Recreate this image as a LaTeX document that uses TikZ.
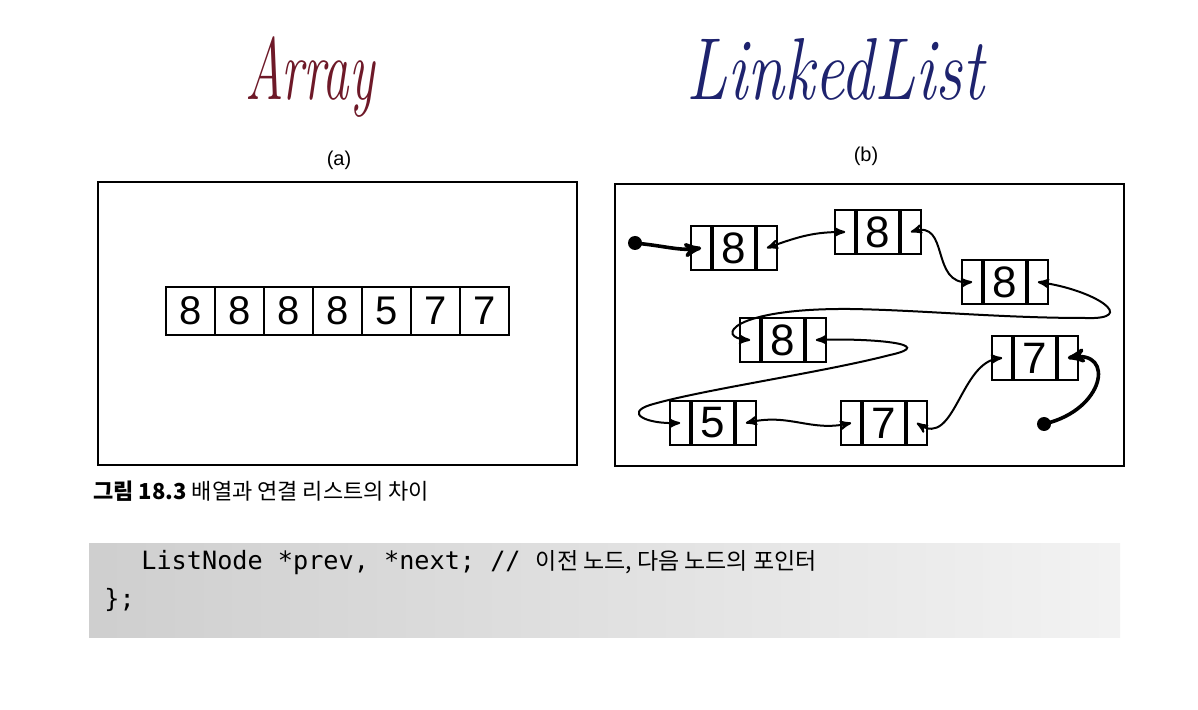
\documentclass[tikz,border=0pt]{standalone}
\usepackage{fontspec}
\newfontfamily\krfont{Noto Sans CJK KR}
\newfontfamily\labelfont{Liberation Sans}
\newfontfamily\codefont{DejaVu Sans Mono}
\usetikzlibrary{arrows,positioning}
\definecolor{penred}{RGB}{110,25,40}
\definecolor{penblue}{RGB}{30,35,110}
\tikzset{
        >=stealth',
        frame/.style = {draw, line width=1pt},
        cell/.style = {draw, line width=1pt, minimum width=24.5pt, minimum height=24pt, inner sep=0pt, font=\labelfont\fontsize{20}{20}\selectfont},
        val/.style = {draw, line width=0.9pt, minimum width=21pt, minimum height=22pt, inner sep=0pt, font=\labelfont\fontsize{22}{22}\selectfont},
        ptr/.style = {draw, line width=0.9pt, minimum width=10pt, minimum height=22pt, inner sep=0pt},
        link/.style = {<->, line width=1pt},
        ends/.style = {->, line width=1.8pt},
        dot/.style = {circle, fill, inner sep=0pt, minimum size=7pt},
        hand/.style = {font=\itshape\fontsize{44}{44}\selectfont, anchor=base, inner sep=0pt},
        sub/.style = {font=\labelfont\fontsize{10}{12}\selectfont}
}

\begin{document}
\begin{tikzpicture}[x=0.5pt, y=-0.5pt]
        \useasboundingbox (0,0) rectangle (1198,710);

        % Handwritten titles
        \node[hand, text=penred, xscale=0.6] (arraytitle) at (310,100) {Array};
        \node[hand, text=penblue, xscale=0.76] (listtitle) at (835,100) {LinkedList};

        % Sub labels and frames
        \node[sub] (suba) at (339,160) {(a)};
        \node[sub] (subb) at (866,156) {(b)};
        \draw[frame] (98,182) rectangle (577,465);
        \draw[frame] (615,184) rectangle (1124,466);

        % Array cells
        \foreach \v [count=\i] in {8,8,8,8,5,7,7}
                \node[cell] (a\i) at ({141.5+49*\i},311) {\v};

        % Linked list nodes
        \foreach \n/\x/\y/\v in {l1/734/248/8, l2/878/232/8, l3/1005/282/8, l4/783/340/8, l5/1035/358/7, l6/713/423/5, l7/884/423/7} {
                \node[val] (\n) at (\x,\y) {\v};
                \node[ptr, left=0pt of \n] (\n-prev) {};
                \node[ptr, right=0pt of \n] (\n-next) {};
        }

        % Head and tail
        \node[dot] (head) at (635,243) {};
        \node[dot] (tail) at (1044,424) {};
        \draw[ends] (head.center) .. controls (665,246) and (680,251) .. (l1-prev.center);
        \draw[ends] (tail.center) .. controls (1105,410) and (1115,350) .. (l5-next.center);

        % Links
        \draw[link] (l1-next.center) .. controls (800,236) and (815,232) .. (l2-prev.center);
        \draw[link] (l2-next.center) .. controls (950,220) and (930,285) .. (l3-prev.center);
        \draw[link] (l3-next.center) .. controls (1095,290) and (1140,320) .. (1085,318)
                .. controls (1000,318) and (920,310) .. (850,309)
                .. controls (730,308) and (715,338) .. (l4-prev.center);
        \draw[link] (l4-next.center) .. controls (870,338) and (940,344) .. (890,355)
                .. controls (820,373) and (700,390) .. (650,405)
                .. controls (625,413) and (645,424) .. (l6-prev.center);
        \draw[link] (l6-next.center) .. controls (790,413) and (810,432) .. (l7-prev.center);
        \draw[link] (l7-next.center) .. controls (955,448) and (960,362) .. (l5-prev.center);

        % Caption
        \node[anchor=west, inner sep=0pt, font=\krfont\fontsize{11}{12}\selectfont] (caption) at (93,491) {\textbf{그림 18.3} 배열과 연결 리스트의 차이};

        % Code
        \shade[left color=gray!38, right color=gray!10] (89,543) rectangle (1120,637);
        \node[anchor=west, inner sep=0pt, font=\codefont\fontsize{12.6}{14}\selectfont] (code1) at (141,563) {ListNode *prev, *next; // {\krfont\fontsize{11.5}{14}\selectfont 이전 노드, 다음 노드의 포인터}};
        \node[anchor=west, inner sep=0pt, font=\codefont\fontsize{12.6}{14}\selectfont] (code2) at (104,600) {\};};

\end{tikzpicture}
\end{document}
